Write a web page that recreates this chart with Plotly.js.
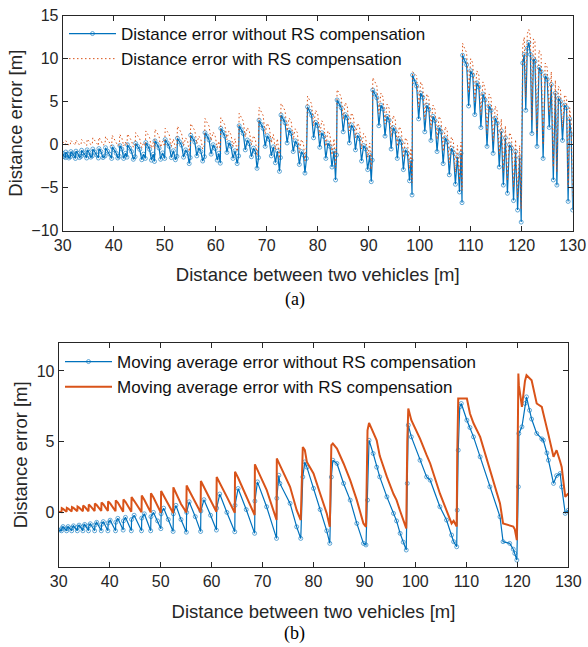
<!DOCTYPE html>
<html><head><meta charset="utf-8">
<script src="https://cdn.plot.ly/plotly-3.0.1.min.js"></script>
<style>html,body{margin:0;padding:0;background:#fff;} #chart{width:588px;height:647px;}</style>
</head><body><div id="chart"></div>
<script>
// ---- (a) raw distance error samples ----
const rawX = [
  30.0, 30.3, 30.55,
  30.6, 30.9, 31.2, 31.5,
  31.6, 31.9, 32.2, 32.5,
  32.6, 32.95, 33.3, 33.6,
  33.7, 34.05, 34.4, 34.7,
  34.8, 35.15, 35.5, 35.8,
  35.9, 36.3, 36.7, 37.0,
  37.1, 37.5, 37.9, 38.3,
  38.4, 38.8, 39.2, 39.6,
  39.7, 40.1, 40.5, 40.8, 41.1,
  41.2, 41.6, 41.95, 42.3, 42.6,
  42.7, 43.1, 43.5, 43.85, 44.2,
  44.3, 44.7, 45.1, 45.5, 45.85, 46.2,
  46.3, 46.7, 47.05, 47.4, 47.75, 48.0,
  48.1, 48.5, 48.9, 49.2, 49.6, 50.0,
  50.1, 50.5, 50.9, 51.3, 51.7, 52.1, 52.4,
  52.5, 52.9, 53.3, 53.7, 54.1, 54.5, 54.8, 55.0,
  55.1, 55.5, 55.9, 56.3, 56.7, 57.1, 57.45, 57.8,
  57.9, 58.3, 58.7, 59.1, 59.5, 59.9, 60.3, 60.6, 60.9,
  61.0, 61.4, 61.8, 62.2, 62.6, 63.0, 63.4, 63.8, 64.2, 64.5,
  64.6, 65.0, 65.4, 65.8, 66.2, 66.6, 67.0, 67.4, 67.8, 68.1, 68.4,
  68.5, 68.9, 69.3, 69.7, 70.1, 70.5, 70.9, 71.3, 71.7, 72.1, 72.5, 72.7,
  72.8, 73.2, 73.6, 74.0, 74.4, 74.8, 75.2, 75.6, 76.0, 76.4, 76.8, 77.2, 77.5, 77.8,
  78.0, 78.4, 78.8, 79.2, 79.6, 80.0, 80.4, 80.8, 81.2, 81.6, 82.0, 82.4, 82.8, 83.2, 83.5, 83.7,
  83.8, 84.2, 84.6, 85.0, 85.4, 85.8, 86.2, 86.6, 87.0, 87.4, 87.8, 88.2, 88.6, 89.0, 89.4, 89.8, 90.2, 90.5, 90.7,
  90.8, 91.2, 91.6, 92.0, 92.4, 92.8, 93.2, 93.6, 94.0, 94.4, 94.8, 95.2, 95.6, 96.0, 96.4, 96.8, 97.2, 97.6, 98.0, 98.3, 98.5,
  98.6, 99.0, 99.4, 99.8, 100.2, 100.6, 101.0, 101.4, 101.8, 102.2, 102.6, 103.0, 103.4, 103.8, 104.2, 104.6, 105.0, 105.4, 105.8, 106.2, 106.6, 107.0, 107.4, 107.8, 108.1, 108.3,
  108.4, 108.8, 109.2, 109.6, 110.0, 110.4, 110.8, 111.2, 111.6, 112.0, 112.4, 112.8, 113.2, 113.6, 114.0, 114.4, 114.8, 115.2, 115.6, 116.0, 116.4, 116.8, 117.2, 117.6, 118.0, 118.4, 118.8, 119.2, 119.6, 119.9,
  120.2, 120.5, 120.8, 121.1, 121.4, 121.7, 122.0, 122.3, 122.6, 123.0, 123.4, 123.8, 124.2, 124.6, 125.0, 125.4, 125.8, 126.2, 126.6, 126.9, 127.2, 127.6, 128.0, 128.4, 128.8, 129.1, 129.4, 129.7, 130.0
];
const rawWithout = [
  -1.0, -1.4, -1.5,
  -0.85, -1.1, -1.55, -1.4,
  -0.8, -1.05, -1.25, -1.6,
  -0.75, -1.0, -1.5, -1.35,
  -0.65, -0.95, -1.2, -1.55,
  -0.6, -0.9, -1.45, -1.3,
  -0.5, -0.85, -1.2, -1.55,
  -0.45, -0.8, -1.5, -1.3,
  -0.35, -0.75, -1.1, -1.6,
  -0.25, -0.6, -1.0, -1.55, -1.35,
  -0.1, -0.5, -1.6, -1.0, -1.45,
  0.0, -0.4, -0.8, -1.7, -1.4,
  0.15, -0.2, -0.55, -1.75, -1.1, -1.6,
  0.25, -0.15, -0.55, -1.8, -1.1, -1.95,
  0.45, 0.05, -0.4, -1.7, -0.95, -1.6,
  0.6, 0.2, -0.2, -1.5, -0.7, -1.75, -1.35,
  0.75, 0.35, -0.05, -1.45, -0.6, -1.0, -2.2, -1.5,
  1.1, 0.7, 0.3, -1.3, -0.35, -0.8, -1.9, -1.4,
  1.4, 1.0, 0.55, -1.1, 0.0, -0.45, -1.8, -1.0, -2.15,
  1.9, 1.45, 1.0, -0.9, 0.25, -0.2, -1.6, -0.7, -2.2, -1.3,
  2.2, 1.75, 1.3, -0.6, 0.55, 0.1, -1.4, -0.4, -0.85, -2.75, -1.5,
  2.85, 2.35, 1.9, -0.2, 1.05, 0.6, -1.3, -0.25, -2.1, -0.75, -3.1, -1.5,
  3.45, 3.0, 2.55, 0.2, 1.7, 1.3, -0.8, 0.45, 0.0, -2.3, -0.8, -1.2, -3.3, -1.6,
  4.4, 3.9, 3.4, 0.8, 2.6, 2.2, -0.3, 1.4, 0.95, -1.6, 0.2, -0.2, -2.6, -0.7, -4.1, -1.2,
  5.2, 4.75, 4.3, 1.5, 3.5, 3.1, 0.2, 2.3, 1.9, -0.6, 1.1, 0.7, -1.9, -0.1, -0.5, -2.9, -1.2, -4.3, -1.8,
  6.36, 5.9, 5.45, 2.2, 4.6, 4.15, 1.0, 3.3, 2.85, -0.5, 2.0, 1.55, -1.6, 0.7, 0.25, -2.9, -0.6, -1.0, -4.2, -1.8, -5.85,
  8.1, 7.3, 6.8, 3.0, 6.0, 5.5, 1.5, 4.6, 4.1, 0.5, 3.3, 2.8, -0.8, 2.0, 1.5, -2.2, 0.8, 0.3, -3.5, -0.4, -0.9, -4.6, -1.4, -5.5, -1.0, -6.74,
  10.4, 9.8, 9.3, 4.5, 8.6, 8.1, 3.5, 7.2, 6.7, 2.0, 5.9, 5.2, -0.2, 4.5, 4.0, -1.0, 3.1, 2.5, -2.6, 1.6, -4.7, 0.8, -5.65, 0.0, -0.4, -6.5, -0.8, -7.6, -1.5, -9.0,
  9.5, 10.5, 4.0, 11.2, 11.9, 10.5, 1.3, 10.0, 9.7, -0.2, 9.0, 8.5, -1.6, 8.0, 7.6, 2.0, 7.0, -4.1, 6.0, -4.7, 5.4, 5.0, 0.5, 4.6, 4.3, -6.6, 3.0, 1.2, -7.6
];
const rawWith = [
  0.35, 0.05, 0.0,
  0.45, 0.25, -0.1, 0.05,
  0.5, 0.3, 0.1, -0.05,
  0.55, 0.3, -0.05, 0.05,
  0.6, 0.35, 0.1, -0.1,
  0.65, 0.4, 0.0, 0.05,
  0.8, 0.45, 0.15, -0.1,
  0.85, 0.5, -0.05, 0.1,
  0.95, 0.55, 0.2, -0.15,
  1.1, 0.7, 0.3, -0.1, 0.0,
  1.2, 0.8, -0.15, 0.3, -0.05,
  1.25, 0.85, 0.45, -0.3, -0.05,
  1.4, 1.05, 0.7, -0.35, 0.2, -0.15,
  1.6, 1.2, 0.8, -0.4, 0.25, -0.5,
  1.8, 1.4, 0.95, -0.3, 0.4, -0.2,
  1.9, 1.55, 1.15, -0.2, 0.65, -0.4, -0.05,
  2.15, 1.75, 1.35, -0.1, 0.8, 0.4, -0.8, -0.1,
  2.45, 2.05, 1.65, 0.1, 1.0, 0.6, -0.5, -0.05,
  3.05, 2.6, 2.15, 0.5, 1.45, 1.0, -0.35, 0.4, -0.7,
  3.15, 2.75, 2.3, 0.6, 1.6, 1.15, -0.2, 0.7, -0.8, 0.1,
  3.65, 3.2, 2.75, 0.9, 2.0, 1.55, 0.0, 1.05, 0.6, -1.3, -0.05,
  4.35, 3.85, 3.4, 1.25, 2.5, 2.05, 0.2, 1.2, -0.6, 0.7, -1.6, 0.0,
  4.8, 4.4, 3.95, 1.6, 3.1, 2.7, 0.6, 1.85, 1.4, -0.9, 0.6, 0.2, -1.9, -0.2,
  5.65, 5.2, 4.75, 2.2, 4.0, 3.55, 1.1, 2.8, 2.35, -0.2, 1.6, 1.2, -1.2, 0.7, -2.7, 0.2,
  6.4, 6.0, 5.6, 2.9, 4.9, 4.5, 1.6, 3.7, 3.3, 0.8, 2.5, 2.1, -0.5, 1.3, 0.9, -1.5, 0.2, -2.9, -0.4,
  7.8, 7.3, 6.85, 3.6, 6.0, 5.55, 2.4, 4.7, 4.25, 0.9, 3.4, 2.95, -0.2, 2.1, 1.65, -1.5, 0.8, 0.4, -2.8, -0.4, -4.4,
  8.5, 8.3, 8.0, 4.4, 7.3, 6.8, 2.9, 5.9, 5.4, 1.9, 4.6, 4.1, 0.6, 3.3, 2.8, -0.8, 2.1, 1.6, -2.1, 0.9, 0.4, -3.2, -0.1, -4.1, 0.3, -5.3,
  11.8, 11.2, 10.7, 6.0, 10.0, 9.5, 5.0, 8.6, 8.1, 3.5, 7.3, 6.6, 1.3, 5.9, 5.4, 0.4, 4.5, 3.9, -1.1, 3.0, -3.2, 2.2, -4.2, 1.4, 1.0, -5.0, 0.6, -6.1, -0.1, -7.5,
  11.5, 12.5, 5.5, 12.9, 13.4, 12.6, 2.8, 12.3, 12.0, 1.3, 11.0, 10.5, 0.0, 9.5, 9.0, 3.5, 8.5, -2.6, 7.5, -3.2, 6.8, 6.4, 2.0, 5.8, 5.5, -5.0, 4.3, 2.5, -6.0
];

// ---- (b) moving average error ----
const maX = [
  30.0, 30.55, 30.6, 30.85, 31.55, 31.6, 31.85, 32.55, 32.6, 32.9,
  33.65, 33.7, 34.0, 34.75, 34.8, 35.1, 35.85, 35.9, 36.2, 37.05,
  37.1, 37.45, 38.35, 38.4, 38.75, 39.65, 39.7, 40.1, 41.15, 41.2,
  41.6, 42.65, 42.7, 43.1, 44.25, 44.3, 44.8, 46.25, 46.3, 46.8,
  48.05, 48.1, 48.6, 49.4, 50.05, 50.1, 50.6, 51.5, 52.45, 52.5,
  53.0, 54.0, 55.05, 55.1, 55.6, 56.8, 57.85, 57.9, 58.5, 59.8,
  60.95, 61.0, 61.6, 63.0, 64.55, 64.6, 65.2, 66.8, 68.45, 68.5,
  69.0, 70.8, 72.75, 72.8, 73.2, 73.4, 75.4, 76.7, 77.5, 77.9,
  78.3, 78.7, 80.0, 81.3, 82.6, 83.2, 83.5, 83.8, 84.6, 85.9,
  87.2, 88.5, 89.8, 90.3, 90.6, 90.9, 91.7, 92.4, 93.0, 94.4,
  95.7, 96.3, 97.0, 97.6, 98.2, 98.4, 98.6, 99.2, 100.9, 102.2,
  102.9, 104.8, 106.1, 107.1, 107.5, 108.1, 108.2, 108.4, 108.7, 109.0,
  110.1, 110.7, 111.4, 112.7, 114.6, 116.6, 117.2, 118.5, 119.2, 119.5,
  119.9, 120.2, 120.3, 120.9, 121.5, 121.8, 122.4, 122.8, 123.8, 124.8,
  125.1, 125.8, 126.1, 127.1, 127.7, 128.4, 128.7, 129.4, 130.0
];
const maWithout = [
  -1.25, -1.3, -1.15, -1.0, -1.3, -1.15, -1.0, -1.3, -1.1, -0.95,
  -1.3, -1.05, -0.9, -1.3, -1.0, -0.85, -1.3, -0.95, -0.8, -1.3,
  -0.9, -0.7, -1.3, -0.85, -0.65, -1.3, -0.75, -0.55, -1.3, -0.7,
  -0.42, -1.25, -0.6, -0.35, -1.3, -0.5, -0.2, -1.3, -0.4, -0.1,
  -1.3, -0.3, 0.0, -0.6, -1.15, -0.1, 0.3, -0.5, -1.35, -0.1,
  0.5, -0.5, -1.4, 0.0, 0.75, -0.3, -1.35, 0.1, 0.9, -0.2,
  -1.25, 0.3, 1.3, 0.0, -1.37, 0.5, 1.69, 0.2, -1.48, 0.8,
  2.16, 0.4, -1.84, 1.0, 2.63, 2.05, 0.64, -1.02, -1.84, 2.51,
  3.57, 3.2, 1.7, 0.2, -1.3, -2.19, 2.5, 3.69, 3.46, 2.05,
  0.87, -0.78, -2.19, -2.3, 0.87, 5.1, 4.17, 3.2, 2.51, 1.1,
  -0.07, -0.6, -1.48, -2.1, -2.66, 2.05, 6.17, 5.34, 3.69, 2.51,
  2.28, 0.4, -0.54, -1.6, -2.07, -2.43, 0.16, 4.4, 7.46, 7.7,
  6.52, 6.0, 5.34, 3.93, 1.81, -0.31, -2.07, -2.19, -2.6, -2.9,
  -3.37, 1.81, 5.58, 6.05, 7.7, 8.17, 7.22, 6.6, 5.58, 5.2,
  5.1, 4.2, 3.69, 2.05, 2.6, 2.75, 1.8, -0.07, 0.16
];
const maWith = [
  0.05, 0.02, 0.3, 0.25, 0.05, 0.32, 0.27, 0.06, 0.38, 0.32,
  0.08, 0.42, 0.35, 0.08, 0.48, 0.4, 0.08, 0.55, 0.46, 0.1,
  0.62, 0.52, 0.1, 0.7, 0.58, 0.1, 0.78, 0.64, 0.08, 0.85,
  0.7, 0.05, 0.92, 0.75, 0.05, 1.08, 0.82, 0.02, 1.2, 0.9,
  0.0, 1.35, 1.05, 0.5, -0.02, 1.52, 1.2, 0.6, -0.05, 1.77,
  1.4, 0.6, 0.0, 1.9, 1.55, 0.75, 0.0, 2.22, 1.8, 0.8,
  0.04, 2.5, 2.1, 1.1, -0.03, 2.87, 2.45, 1.2, -0.19, 3.4,
  3.0, 1.6, -0.54, 3.81, 3.5, 3.34, 1.81, 0.16, -0.54, 4.63,
  4.4, 3.57, 2.75, 1.34, -0.07, -1.02, 4.75, 4.87, 4.52, 3.46,
  2.28, 0.87, -0.78, -1.02, 5.81, 6.33, 5.6, 5.1, 4.0, 2.51,
  1.3, 0.87, 0.1, -0.54, -1.13, 5.0, 7.34, 6.52, 5.22, 4.05,
  3.46, 1.34, 0.16, -0.78, -0.6, -1.0, 3.93, 8.05, 8.05, 8.05,
  8.05, 6.99, 6.3, 5.34, 2.99, 0.64, -0.78, -0.9, -1.0, -1.2,
  -1.96, 9.82, 9.0, 7.46, 9.3, 9.7, 9.5, 9.34, 7.7, 7.46,
  7.0, 6.05, 5.5, 3.93, 4.4, 3.6, 3.22, 1.1, 1.34
];

const xTicks = [30, 40, 50, 60, 70, 80, 90, 100, 110, 120, 130];
const yTicksTop = [-10, -5, 0, 5, 10, 15];
const yTicksBottom = [0, 5, 10];
const seriesNames = [
  'Distance error without RS compensation',
  'Distance error with RS compensation',
  'Moving average error without RS compensation',
  'Moving average error with RS compensation'
];
const xTitle = 'Distance between two vehicles [m]';
const yTitle = 'Distance error [m]';

const W = 588, H = 647;
const blue = '#0072BD', orange = '#D95319', axc = '#262626';
const sans = 'Liberation Sans, Arial, sans-serif';

function axis(extra) {
  return Object.assign({
    showline: true, linecolor: axc, linewidth: 1, mirror: 'ticks',
    ticks: 'inside', ticklen: 5, tickwidth: 1, tickcolor: axc,
    showgrid: false, zeroline: false, fixedrange: true,
    tickfont: {family: sans, size: 16, color: axc}
  }, extra);
}

const traces = [
  {x: rawX, y: rawWithout, xaxis: 'x', yaxis: 'y', legend: 'legend', name: seriesNames[0],
   type: 'scatter', mode: 'lines+markers',
   line: {color: blue, width: 1.2},
   marker: {symbol: 'circle-open', size: 4, color: 'rgba(0,114,189,0.6)', line: {width: 1}}},
  {x: rawX, y: rawWith, xaxis: 'x', yaxis: 'y', legend: 'legend', name: seriesNames[1],
   type: 'scatter', mode: 'lines',
   line: {color: orange, width: 1, dash: '1.5px,2.5px'}},
  {x: maX, y: maWithout, xaxis: 'x2', yaxis: 'y2', legend: 'legend2', name: seriesNames[2],
   type: 'scatter', mode: 'lines+markers',
   line: {color: blue, width: 1.2},
   marker: {symbol: 'circle-open', size: 4, color: 'rgba(0,114,189,0.6)', line: {width: 1}}},
  {x: maX, y: maWith, xaxis: 'x2', yaxis: 'y2', legend: 'legend2', name: seriesNames[3],
   type: 'scatter', mode: 'lines',
   line: {color: orange, width: 2}}
];

const legendBase = {
  xanchor: 'left', yanchor: 'top', bgcolor: 'rgba(0,0,0,0)', borderwidth: 0,
  font: {family: sans, size: 17, color: '#111'}, itemwidth: 47, tracegroupgap: 0
};

const layout = {
  width: W, height: H,
  margin: {l: 0, r: 0, t: 0, b: 0},
  paper_bgcolor: '#fff', plot_bgcolor: '#fff',
  showlegend: true,
  xaxis: axis({domain: [62.7/W, 572.7/W], range: [30, 130], tickvals: xTicks, anchor: 'y',
    title: {text: xTitle, font: {family: sans, size: 18.5, color: axc}, standoff: 15}}),
  yaxis: axis({domain: [1 - 230.7/H, 1 - 15.7/H], range: [-10, 15], tickvals: yTicksTop, anchor: 'x',
    title: {text: yTitle, font: {family: sans, size: 18.5, color: axc}, standoff: 3}}),
  xaxis2: axis({domain: [58.7/W, 568.3/W], range: [30, 130], tickvals: xTicks, anchor: 'y2',
    title: {text: xTitle, font: {family: sans, size: 18.5, color: axc}, standoff: 15}}),
  yaxis2: axis({domain: [1 - 567/H, 1 - 342.7/H], range: [-3.86, 12], tickvals: yTicksBottom, anchor: 'x2',
    title: {text: yTitle, font: {family: sans, size: 18.5, color: axc}, standoff: 4}}),
  legend: Object.assign({}, legendBase, {x: 64/W, y: 1 - 16/H}),
  legend2: Object.assign({}, legendBase, {x: 60/W, y: 1 - 344/H}),
  annotations: [
    {text: '(a)', xref: 'paper', yref: 'paper', x: 295/W, y: 1 - 300/H, showarrow: false,
     xanchor: 'center', yanchor: 'middle', font: {family: 'Liberation Serif, Times New Roman, serif', size: 18, color: '#000'}},
    {text: '(b)', xref: 'paper', yref: 'paper', x: 295/W, y: 1 - 633/H, showarrow: false,
     xanchor: 'center', yanchor: 'middle', font: {family: 'Liberation Serif, Times New Roman, serif', size: 18, color: '#000'}}
  ]
};

Plotly.newPlot('chart', traces, layout, {staticPlot: true, displayModeBar: false});
</script>
</body></html>
